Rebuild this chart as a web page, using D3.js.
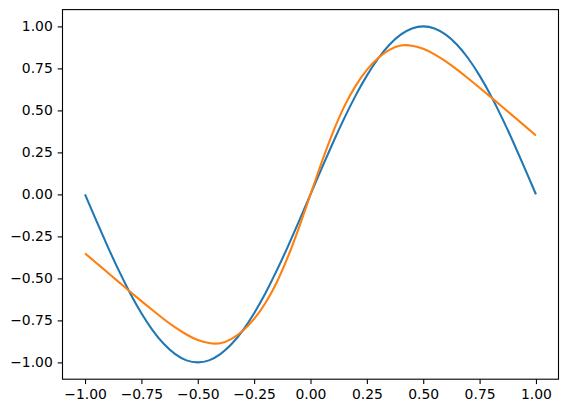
<!DOCTYPE html>
<html>
<head>
<meta charset="utf-8">
<script src="https://cdn.jsdelivr.net/npm/d3@7"></script>
<style>
  html, body { margin: 0; padding: 0; background: #fff; }
  svg { display: block; }
  .tick text { font-family: "DejaVu Sans", sans-serif; font-size: 13.9px; fill: #000; }
</style>
</head>
<body>
<div id="chart"></div>
<script>
// both curves read every 0.05 along x
const xs = [-1.0, -0.95, -0.9, -0.85, -0.8, -0.75, -0.7, -0.65, -0.6, -0.55, -0.5,
  -0.45, -0.4, -0.35, -0.3, -0.25, -0.2, -0.15, -0.1, -0.05, 0,
  0.05, 0.1, 0.15, 0.2, 0.25, 0.3, 0.35, 0.4, 0.45, 0.5,
  0.55, 0.6, 0.65, 0.7, 0.75, 0.8, 0.85, 0.9, 0.95, 1.0];

const yBlue = [0.000, -0.156, -0.309, -0.454, -0.588, -0.707, -0.809, -0.891, -0.951, -0.988, -1.000,
  -0.988, -0.951, -0.891, -0.809, -0.707, -0.588, -0.454, -0.309, -0.156, 0.000,
  0.156, 0.309, 0.454, 0.588, 0.707, 0.809, 0.891, 0.951, 0.988, 1.000,
  0.988, 0.951, 0.891, 0.809, 0.707, 0.588, 0.454, 0.309, 0.156, 0.000];

const yOrange = [-0.351, -0.408, -0.465, -0.522, -0.579, -0.635, -0.690, -0.743, -0.792, -0.834, -0.867,
  -0.885, -0.886, -0.860, -0.812, -0.741, -0.646, -0.524, -0.371, -0.193, 0.000,
  0.193, 0.371, 0.524, 0.646, 0.741, 0.812, 0.860, 0.886, 0.885, 0.867,
  0.834, 0.792, 0.743, 0.690, 0.635, 0.579, 0.522, 0.465, 0.408, 0.351];

const xTicks = [-1.0, -0.75, -0.5, -0.25, 0, 0.25, 0.5, 0.75, 1.0];
const yTicks = [-1.0, -0.75, -0.5, -0.25, 0, 0.25, 0.5, 0.75, 1.0];

const width = 568, height = 413;
const box = { left: 62.5, right: 558.5, top: 9.6, bottom: 379.2 };

const svg = d3.select('#chart').append('svg')
  .attr('width', width)
  .attr('height', height);

const x = d3.scaleLinear().domain([-1.1, 1.1]).range([box.left, box.right]);
const y = d3.scaleLinear().domain([-1.1, 1.1]).range([box.bottom, box.top]);

const fmt = v => d3.format('.2f')(v).replace('-', '\u2212');

const xAxis = svg.append('g')
  .attr('transform', `translate(0,${box.bottom})`)
  .call(d3.axisBottom(x).tickValues(xTicks).tickFormat(fmt).tickSize(4.86).tickPadding(4.86));
const yAxis = svg.append('g')
  .attr('transform', `translate(${box.left},0)`)
  .call(d3.axisLeft(y).tickValues(yTicks).tickFormat(fmt).tickSize(4.86).tickPadding(4.86));

[xAxis, yAxis].forEach(g => {
  g.select('.domain').remove();
  g.selectAll('.tick line').attr('stroke', '#000').attr('stroke-width', 1.1);
});

const line = d3.line()
  .x(d => x(d[0]))
  .y(d => y(d[1]))
  .curve(d3.curveNatural);

svg.append('path')
  .datum(xs.map((v, i) => [v, yBlue[i]]))
  .attr('d', line)
  .attr('fill', 'none')
  .attr('stroke', '#1f77b4')
  .attr('stroke-width', 2.08);

svg.append('path')
  .datum(xs.map((v, i) => [v, yOrange[i]]))
  .attr('d', line)
  .attr('fill', 'none')
  .attr('stroke', '#ff7f0e')
  .attr('stroke-width', 2.08);

svg.append('rect')
  .attr('x', box.left)
  .attr('y', box.top)
  .attr('width', box.right - box.left)
  .attr('height', box.bottom - box.top)
  .attr('fill', 'none')
  .attr('stroke', '#000')
  .attr('stroke-width', 1.1);
</script>
</body>
</html>
